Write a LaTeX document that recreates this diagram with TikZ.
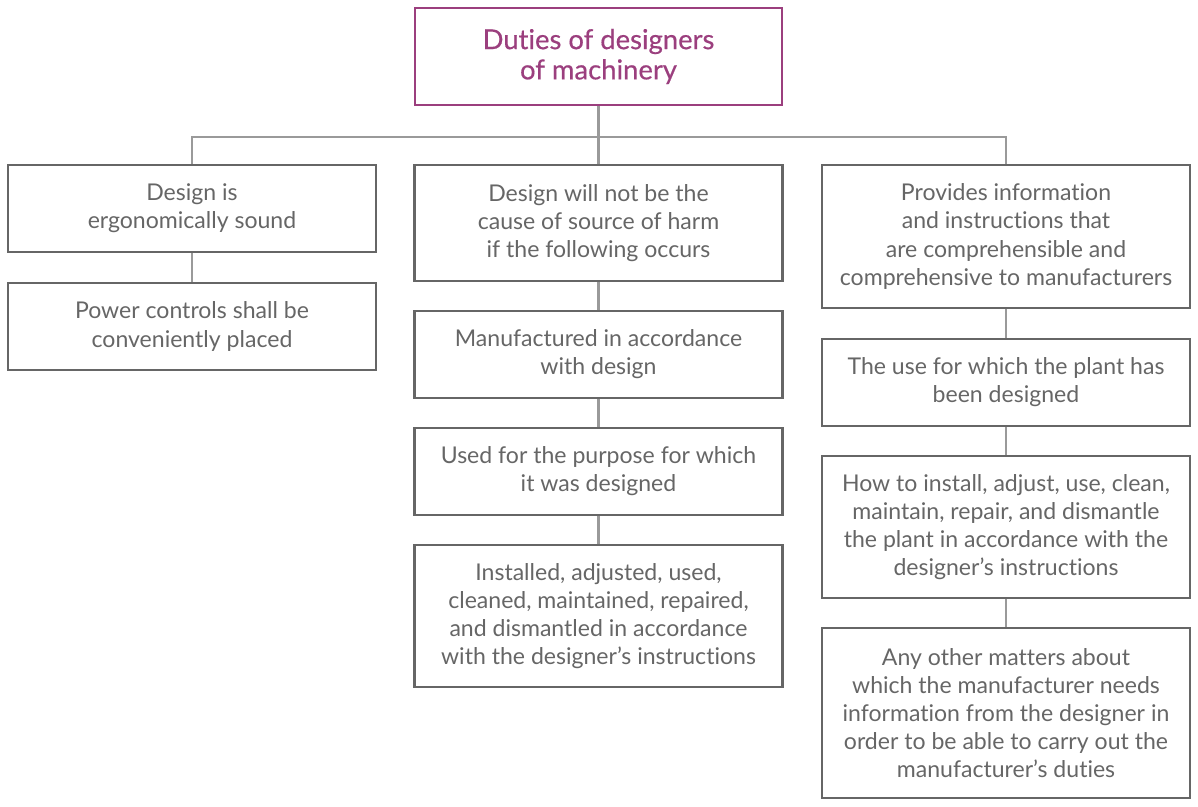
\documentclass[tikz,border=0pt]{standalone}
\usepackage{fontspec}
\setmainfont{Lato}[Ligatures=NoCommon]
\newfontfamily\headfont{Lato}[Ligatures=NoCommon, FakeBold=0.45]
\usepackage{tikz}
\usetikzlibrary{positioning,calc}
\definecolor{boxgray}{HTML}{666666}
\definecolor{linegray}{HTML}{9A9A9A}
\definecolor{dutypurple}{HTML}{9B3F7E}

\begin{document}
\begin{tikzpicture}[
  font=\fontsize{16.4}{20}\selectfont,
  box/.style={draw=boxgray, line width=2.1pt, text=boxgray, align=center,
    minimum width=9.2cm, inner sep=0pt},
  headbox/.style={box, draw=dutypurple, text=dutypurple, minimum width=9.175cm,
    font=\headfont\fontsize{19.5}{21.5}\selectfont},
  link/.style={draw=linegray, line width=2.1pt}
]
\useasboundingbox (0,0) rectangle (29.95,20.175);
\node[headbox, minimum height=2.425cm] (top) at (14.9625,18.7625) {Duties of designers\\of machinery};
% left column
\node[box, minimum height=2.175cm] (ergo) at (4.8,14.9625) {Design is\\ergonomically sound};
\node[box, minimum height=2.175cm] (power) at (4.8,12.0125) {Power controls shall be\\conveniently placed};
% middle column
\node[box, minimum height=2.9cm] (harm) at (14.9625,14.6) {Design will not be the\\cause of source of harm\\if the following occurs};
\node[box, minimum height=2.175cm] (made) at (14.9625,11.3125) {Manufactured in accordance\\with design};
\node[box, minimum height=2.175cm] (used) at (14.9625,8.3875) {Used for the purpose for which\\it was designed};
\node[box, minimum height=3.55cm] (inst) at (14.9625,4.775) {Installed, adjusted, used,\\cleaned, maintained, repaired,\\and dismantled in accordance\\with the designer's instructions};
% right column
\node[box, minimum height=3.575cm] (info) at (25.15,14.2625) {Provides information\\and instructions that\\are comprehensible and\\comprehensive to manufacturers};
\node[box, minimum height=2.175cm] (purpose) at (25.15,10.6125) {The use for which the plant has\\been designed};
\node[box, minimum height=3.55cm] (howto) at (25.15,7.0) {How to install, adjust, use, clean,\\maintain, repair, and dismantle\\the plant in accordance with the\\designer's instructions};
\node[box, minimum height=4.25cm] (other) at (25.15,2.35) {Any other matters about\\which the manufacturer needs\\information from the designer in\\order to be able to carry out the\\manufacturer's duties};

\coordinate (bus) at (14.9625,16.75);
\draw[link] (top.south) -- (bus) -- (harm.north);
\draw[link] (ergo.north) |- (bus) -| (info.north);
\draw[link] (ergo.south) -- (power.north);
\draw[link] (harm.south) -- (made.north);
\draw[link] (made.south) -- (used.north);
\draw[link] (used.south) -- (inst.north);
\draw[link] (info.south) -- (purpose.north);
\draw[link] (purpose.south) -- (howto.north);
\draw[link] (howto.south) -- (other.north);
\end{tikzpicture}
\end{document}
